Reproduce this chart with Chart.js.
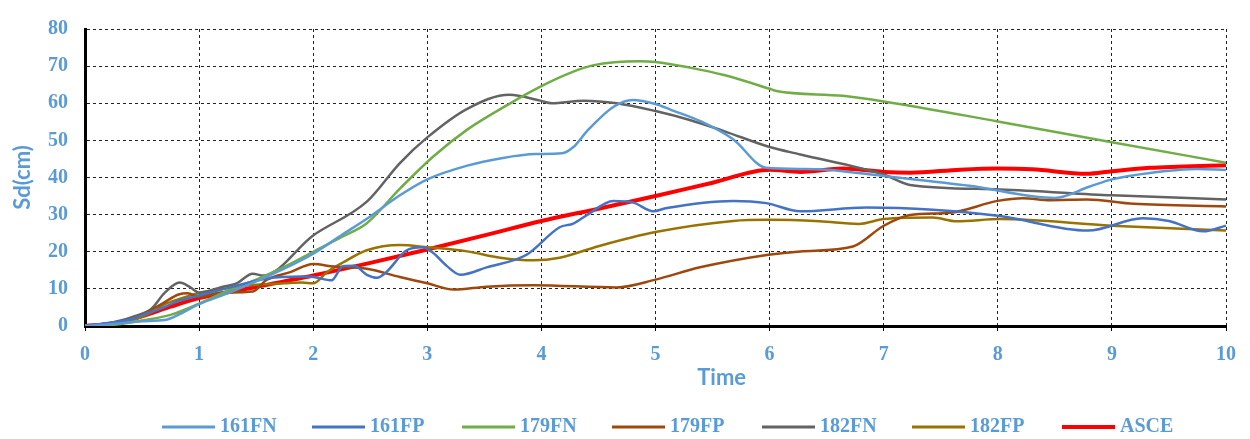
<!DOCTYPE html>
<html>
<head>
<meta charset="utf-8">
<script src="https://cdn.jsdelivr.net/npm/chart.js@4.4.0/dist/chart.umd.min.js"></script>
<style>
  html, body { margin: 0; padding: 0; background: #fff; }
</style>
</head>
<body>
<canvas id="chartSd" width="1250" height="439"></canvas>
<script>
// Sd(cm) vs Time
var t161FN = [0,0.3,0.5,0.7,0.85,1,1.25,1.5,1.75,2,2.25,2.5,2.75,3,3.35,3.65,3.95,4.18,4.28,4.4,4.63,4.8,5,5.13,5.4,5.68,5.97,6.3,6.5,7,7.75,8.5,8.8,9,9.35,9.75,10];
var v161FN = [0,0.7,1.3,1.6,3.5,5.9,8.8,12,15.5,19.5,24.5,29.5,35,39.5,43.2,45.2,46.3,46.5,48.2,52.5,59,60.9,59.8,58.3,55.1,50.3,42.6,42.3,42.1,40.4,37.8,34.5,37.5,39.5,41.3,42.3,42];

var t161FP = [0,0.25,0.4,0.55,0.65,0.8,1,1.3,1.6,1.9,2.0,2.16,2.26,2.36,2.47,2.56,2.64,2.82,2.96,3.05,3.17,3.29,3.52,3.87,4.16,4.28,4.4,4.63,4.8,4.98,5.1,5.68,5.97,6.27,6.85,7.43,8.02,8.79,9.27,9.5,9.8,10];
var v161FP = [0,1,1.8,3.5,4.5,6.5,8.2,10.6,12.8,13.3,13.2,12.3,16.1,16.2,13.8,13,14.5,20.4,21.2,19.7,16.2,13.8,15.8,19.2,26.6,27.6,29.9,33.7,33.3,30.9,31.8,33.7,33.1,30.9,31.9,31.3,29.6,25.7,29.0,28.3,25.5,27];

var t179FN = [0,0.3,0.5,0.75,1,1.25,1.5,1.75,2,2.25,2.47,2.76,3.05,3.35,3.7,4.0,4.28,4.45,4.86,5.0,5.3,5.6,6.0,6.06,6.64,7.0,8.0,9.0,10];
var v179FN = [0,0.5,1.5,3,6,9.5,12.5,16,20,24,27.7,37,45.6,52.9,59.5,64.6,68.5,70.2,71.3,71.1,69.6,67.6,63.9,63.3,62.0,60.5,55.1,49.5,44];

var t179FP = [0,0.25,0.45,0.67,0.82,0.9,1.0,1.2,1.47,1.59,1.8,2.0,2.18,2.47,2.76,3.0,3.23,3.52,3.93,4.66,5.0,5.39,5.99,6.27,6.73,7.0,7.23,7.58,8.0,8.22,8.46,8.78,9.19,10];
var v179FP = [0,0.8,2.4,5.9,8.5,8.8,7.8,9,9.3,12.4,14.5,16.7,16,15.4,13.2,11.5,9.8,10.6,11.0,10.4,12.5,15.8,19.2,20.1,21.4,27,29.9,30.5,33.7,34.4,33.9,34.1,32.9,32.2];

var t182FN = [0,0.25,0.45,0.58,0.7,0.83,0.92,1.0,1.2,1.33,1.47,1.56,2.0,2.47,2.76,3.0,3.35,3.72,3.99,4.09,4.37,4.66,5.0,5.3,5.6,6.0,6.27,7.0,7.23,8.02,9.0,10];
var v182FN = [0,1,2.8,4.6,9,11.7,10.5,9,10.5,11.5,14.1,13.6,24.4,33.5,43.9,50.8,58.5,62.3,60.7,60,60.7,60,57.9,55.5,52.5,48.2,46.2,40.8,38,36.8,35.2,34.1];

var t182FP = [0,0.3,0.5,0.6,0.7,0.85,1.0,1.25,1.5,1.75,1.9,2.0,2.12,2.26,2.47,2.76,3.0,3.35,3.64,3.93,4.16,4.5,5.0,5.68,5.99,6.44,6.78,7.0,7.43,7.64,8.02,9.0,10];
var v182FP = [0,0.6,2.5,4,5.9,7.5,8.9,10.2,11.1,11.5,11.7,11.5,14.5,17.1,20.4,21.8,21.2,20.1,18.4,17.7,18.4,21.5,25.3,28.3,28.6,28.2,27.5,28.8,29.2,28.2,28.8,27.0,25.7];

var tASCE = [0,0.25,0.5,0.75,1,1.5,2,2.5,3,3.5,4,4.5,5,5.5,6,6.27,6.64,7,7.23,7.67,8,8.3,8.78,9,9.33,10];
var vASCE = [0,0.7,2.6,5.2,7.5,10.5,13.6,17,20.6,24.4,28.3,31.6,35,38.6,42.1,41.5,42.4,41.5,41.3,42.1,42.4,42.2,41,41.7,42.6,43.3];

var seriesNames = ['161FN', '161FP', '179FN', '179FP', '182FN', '182FP', 'ASCE'];
var xTicks = [0, 10, 1];   // min, max, step
var yTicks = [0, 80, 10];

var blue = '#5B9BD5';

function pts(t, v) {
  return t.map(function (x, i) { return { x: x, y: v[i] }; });
}

function line(name, t, v, color, width) {
  return {
    label: name,
    data: pts(t, v),
    borderColor: color,
    backgroundColor: color,
    borderWidth: width,
    pointRadius: 0,
    fill: false,
    cubicInterpolationMode: 'monotone'
  };
}

// legend drawn by hand so the spacing matches the picture
var sdLegend = {
  id: 'sdLegend',
  afterDraw: function (chart) {
    var ctx = chart.ctx;
    var x0 = 162, step = 150, y = 427;
    ctx.save();
    ctx.font = 'bold 20px "Liberation Serif"';
    ctx.textBaseline = 'middle';
    chart.data.datasets.forEach(function (ds, i) {
      var x = x0 + i * step;
      ctx.strokeStyle = ds.borderColor;
      ctx.lineWidth = ds.label === 'ASCE' ? 4 : 3;
      ctx.beginPath();
      ctx.moveTo(x, y);
      ctx.lineTo(x + 53, y);
      ctx.stroke();
      ctx.fillStyle = blue;
      ctx.fillText(ds.label, x + 58, y);
    });
    ctx.restore();
  }
};

// x axis title sits right of centre in the picture
var timeTitle = {
  id: 'timeTitle',
  afterDraw: function (chart) {
    var a = chart.chartArea;
    var ctx = chart.ctx;
    ctx.save();
    ctx.font = 'bold 22px Lato';
    ctx.fillStyle = blue;
    ctx.textAlign = 'center';
    ctx.textBaseline = 'middle';
    ctx.fillText('Time', a.left + 0.558 * (a.right - a.left), 378);
    ctx.restore();
  }
};

var ctx = document.getElementById('chartSd');

var chartSd = new Chart(ctx, {
  type: 'line',
  data: {
    datasets: [
      line(seriesNames[0], t161FN, v161FN, '#5B9BD5', 2.5),
      line(seriesNames[1], t161FP, v161FP, '#4472C4', 2.5),
      line(seriesNames[2], t179FN, v179FN, '#70AD47', 2.5),
      line(seriesNames[3], t179FP, v179FP, '#9E480E', 2.5),
      line(seriesNames[4], t182FN, v182FN, '#636363', 2.5),
      line(seriesNames[5], t182FP, v182FP, '#997300', 2.5),
      line(seriesNames[6], tASCE, vASCE, '#FF0000', 4)
    ]
  },
  options: {
    responsive: false,
    animation: false,
    devicePixelRatio: 1,
    layout: { padding: { left: 0, right: 24, top: 17, bottom: 0 } },
    plugins: {
      legend: { display: false },
      tooltip: { enabled: false }
    },
    scales: {
      x: {
        type: 'linear',
        min: xTicks[0],
        max: xTicks[1],
        ticks: {
          stepSize: xTicks[2],
          color: blue,
          padding: 12,
          font: { family: '"Liberation Serif"', size: 20, weight: 'bold' }
        },
        grid: { color: '#222', lineWidth: 1, tickLength: 5, tickColor: '#000', tickBorderDash: [] },
        border: { color: '#000', width: 3, dash: [3, 3] },
        afterFit: function (scale) { scale.height = 113; }
      },
      y: {
        min: yTicks[0],
        max: yTicks[1],
        ticks: {
          stepSize: yTicks[2],
          color: blue,
          padding: 17,
          font: { family: '"Liberation Serif"', size: 20, weight: 'bold' }
        },
        grid: { color: '#222', lineWidth: 1, drawTicks: false },
        border: { color: '#000', width: 3, dash: [3, 3] },
        title: {
          display: true,
          text: 'Sd(cm)',
          color: blue,
          padding: { top: 10, bottom: 0 },
          font: { family: 'Lato', size: 22, weight: 'bold' }
        },
        afterFit: function (scale) { scale.width = 85; }
      }
    }
  },
  plugins: [sdLegend, timeTitle]
});
</script>
</body>
</html>
